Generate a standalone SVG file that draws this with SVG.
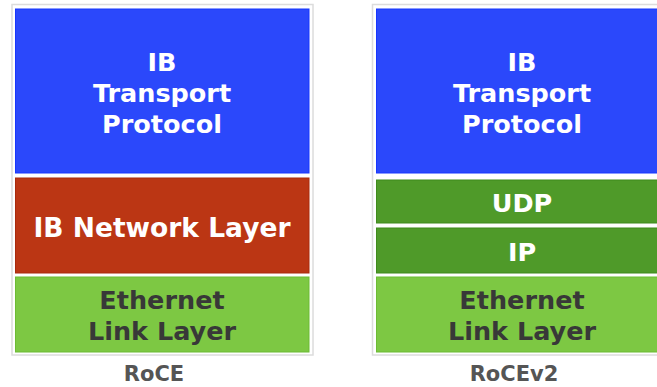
<svg xmlns="http://www.w3.org/2000/svg" width="657" height="387" viewBox="0 0 657 387">
  <style>
    .frame { fill: #ffffff; stroke: #dcdcdc; stroke-width: 1.5; }
    .layer { stroke-width: 1; }
    .blue { fill: #2b48fb; stroke: #1736ff; }
    .red { fill: #bb3614; stroke: #a82a0c; }
    .dgreen { fill: #4f9a29; stroke: #3f8a1c; }
    .lgreen { fill: #7dc843; stroke: #6dbb34; }
    .t { font-family: "DejaVu Sans", Verdana, sans-serif; font-weight: bold; font-size: 25.5px; text-anchor: middle; }
    .w { fill: #ffffff; }
    .d { fill: #383838; }
    .cap { font-family: "DejaVu Sans", Verdana, sans-serif; font-weight: bold; font-size: 21px; text-anchor: middle; fill: #555555; }
  </style>

  <!-- RoCE stack -->
  <g id="roce">
    <rect class="frame" x="12" y="4.5" width="301" height="350.5"/>
    <g id="roce-transport">
      <rect class="layer blue" x="15.5" y="9" width="293.5" height="164"/>
      <text class="t w" x="162" y="71">IB</text>
      <text class="t w" x="162" y="102">Transport</text>
      <text class="t w" x="162" y="133">Protocol</text>
    </g>
    <g id="roce-network">
      <rect class="layer red" x="15.5" y="178" width="293.5" height="95"/>
      <text class="t w" x="162" y="237" style="font-size:26.5px">IB Network Layer</text>
    </g>
    <g id="roce-ethernet">
      <rect class="layer lgreen" x="15.5" y="277" width="293.5" height="75"/>
      <text class="t d" x="162" y="309">Ethernet</text>
      <text class="t d" x="162" y="340">Link Layer</text>
    </g>
    <text class="cap" x="154" y="381">RoCE</text>
  </g>

  <!-- RoCEv2 stack -->
  <g id="rocev2">
    <rect class="frame" x="372.5" y="4.5" width="300" height="350.5"/>
    <g id="rocev2-transport">
      <rect class="layer blue" x="376.5" y="9" width="293.5" height="164"/>
      <text class="t w" x="522" y="71">IB</text>
      <text class="t w" x="522" y="102">Transport</text>
      <text class="t w" x="522" y="133">Protocol</text>
    </g>
    <g id="rocev2-udp">
      <rect class="layer dgreen" x="376.5" y="180" width="293.5" height="43"/>
      <text class="t w" x="522" y="212">UDP</text>
    </g>
    <g id="rocev2-ip">
      <rect class="layer dgreen" x="376.5" y="228" width="293.5" height="45"/>
      <text class="t w" x="522" y="261">IP</text>
    </g>
    <g id="rocev2-ethernet">
      <rect class="layer lgreen" x="376.5" y="277" width="293.5" height="75"/>
      <text class="t d" x="522" y="309">Ethernet</text>
      <text class="t d" x="522" y="340">Link Layer</text>
    </g>
    <text class="cap" x="514" y="381">RoCEv2</text>
  </g>

  <g id="connectors"/>
</svg>
